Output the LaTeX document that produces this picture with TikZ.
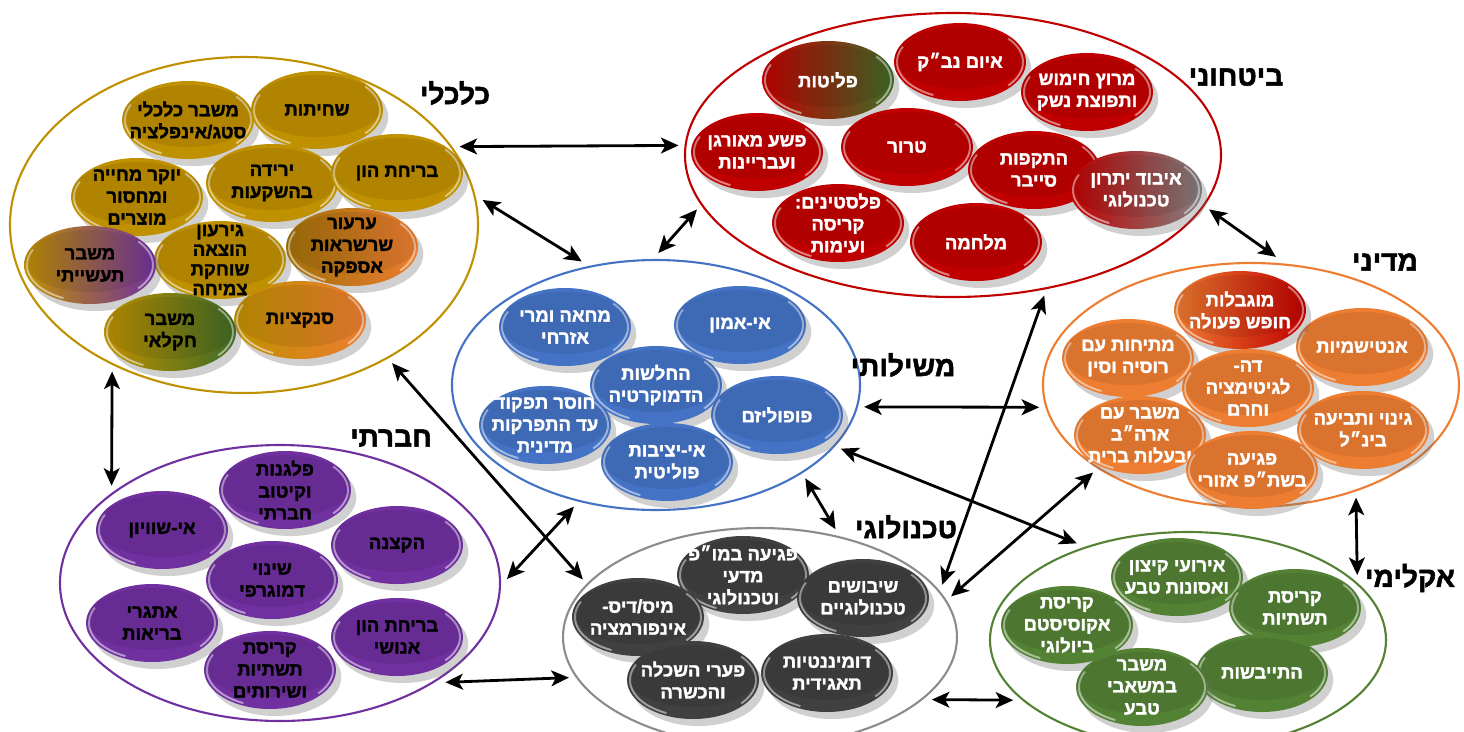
\documentclass[tikz,border=0pt]{standalone}
\usepackage{fontspec}
\newfontfamily\heb[Script=Hebrew,FakeBold=1.8]{Liberation Sans Bold}
\TeXXeTstate=1
\usetikzlibrary{shapes.geometric,arrows.meta,shadows,calc}
\definecolor{cgold}{HTML}{BF9000}
\definecolor{cred}{HTML}{C00000}
\definecolor{cblue}{HTML}{4472C4}
\definecolor{corange}{HTML}{ED7D31}
\definecolor{cpurple}{HTML}{7030A0}
\definecolor{cdgray}{HTML}{404040}
\definecolor{cgreen}{HTML}{548235}
\definecolor{cdgreen}{HTML}{3E6B26}
\definecolor{cmgray}{HTML}{808080}
\definecolor{cgrayl}{HTML}{8C8C8C}
\newcommand\hb[1]{\beginR#1\endR}
\newcommand\bub[6][]{%
  \node[bubble,#4] (#2) at (#3) {};
  \node[btxt,text=#5,#1] (#2t) at (#2.center) {#6};}
\tikzset{
  mytip/.tip={Stealth[length=10pt,width=9pt,inset=2.5pt]},
  conn/.style={mytip-mytip, line width=1.6pt, draw=black},
  grp/.style n args={3}{ellipse, draw=#1, fill=white, line width=1.2pt, inner sep=0pt,
    outer sep=4pt, minimum width=#2*0.02cm, minimum height=#3*0.02cm},
  bubble/.style={ellipse, inner sep=0pt, minimum width=2.64cm, minimum height=1.56cm,
    drop shadow={opacity=.3, shadow xshift=3pt, shadow yshift=-4pt, fill=black!60},
    path picture={\draw[white,opacity=.5,line width=1.1pt]
      ($(path picture bounding box.center)+(155:1.26cm and .73cm)$)
        arc[start angle=155,end angle=245,x radius=1.26cm,y radius=.73cm]
      ($(path picture bounding box.center)+(-40:1.26cm and .73cm)$)
        arc[start angle=-40,end angle=40,x radius=1.26cm,y radius=.73cm];
      \fill[black,opacity=.08] (path picture bounding box.center) ++(0,-4)
        ellipse [x radius=1.3cm, y radius=.62cm];}},
  btxt/.style={align=center, inner sep=0pt, font=\heb\fontsize{10.5}{12.5}\selectfont},
  lab/.style={inner sep=0pt, font=\heb\fontsize{16}{18}\selectfont},
  gold/.style={fill=cgold}, red/.style={fill=cred}, blue/.style={fill=cblue},
  orng/.style={fill=corange}, purp/.style={fill=cpurple}, dgray/.style={fill=cdgray},
  grn/.style={fill=cgreen}
}
\begin{document}
\begin{tikzpicture}[x=0.02cm,y=-0.02cm]
\useasboundingbox (0,0) rectangle (1464,731);
\clip (0,0) rectangle (1464,731);

% group ellipses
\node[grp={cgold}{468}{336}] (G) at (244,225) {};
\node[grp={cred}{536}{284}] (R) at (953,155) {};
\node[grp={cblue}{408}{250}] (B) at (656,385) {};
\node[grp={corange}{416}{244}] (O) at (1251,385) {};
\node[grp={cpurple}{440}{276}] (P) at (280,583) {};
\node[grp={cgrayl}{394}{218}] (T) at (760,637) {};
\node[grp={cgreen}{396}{216}] (C) at (1188,640) {};

% labels
\node[lab] (lG) at (455,93) {\hb{כלכלי}};
\node[lab] (lR) at (1236,77) {\hb{ביטחוני}};
\node[lab] (lB) at (903,365) {\hb{משילותי}};
\node[lab] (lO) at (1385,262) {\hb{מדיני}};
\node[lab] (lP) at (391,438) {\hb{חברתי}};
\node[lab] (lT) at (906,527) {\hb{טכנולוגי}};
\node[lab] (lC) at (1410,578) {\hb{אקלימי}};

% connectors
\draw[conn] (G.20) -- (R.178);
\draw[conn] (G.6) -- (B.121);
\draw[conn] (R.192) -- (B.89);
\draw[conn] (R.-12) -- (O.79);
\draw[conn] (G.228) -- (P.150);
\draw[conn] (G.-43) -- (T.162);
\draw[conn] (B.236) -- (P.1);
\draw[conn] (P.-31) -- (T.192);
\draw[conn] (B.-6) -- (O.186);
\draw[conn] (B.-19) -- (C.139);
\draw[conn] (R.-57) -- (T.16);
\draw[conn] (O.209) -- (T.12);
\draw[conn] (B.-32) -- (T.55);
\draw[conn] (T.-20) -- (C.199);
\draw[conn] (O.-47) -- (C.21);

% economic
\bub{g2}{188,120}{gold}{black}{\hb{משבר כלכלי}\\\hb{סטג/אינפלציה}}
\bub{g1}{317,110}{gold}{black}{\hb{שחיתות}}
\bub{g4}{272,183}{gold}{black}{\hb{ירידה}\\\hb{בהשקעות}}
\bub{g3}{397,173}{gold}{black}{\hb{בריחת הון}}
\bub{g5}{137,197}{gold}{black}{\hb{יוקר מחייה}\\\hb{ומחסור}\\\hb{מוצרים}}
\bub[font=\heb\fontsize{10.5}{11.2}\selectfont]{g7}{220,260}{gold}{black}{\hb{גירעון}\\\hb{הוצאה}\\\hb{שוחקת}\\\hb{צמיחה}}
\bub{g6}{352,247}{left color=cgold!80!corange!80!black, right color=corange}{black}{\hb{ערעור}\\\hb{שרשראות}\\\hb{אספקה}}
\bub{g8}{90,265}{left color=cgold, middle color=cgold!80!cpurple, right color=cpurple}{black}{\hb{משבר}\\\hb{תעשייתי}}
\bub{g9}{300,320}{left color=cgold, right color=corange}{black}{\hb{סנקציות}}
\bub{g10}{170,332}{left color=cgold, middle color=cgold!70!cdgreen, right color=cdgreen}{black}{\hb{משבר}\\\hb{חקלאי}}

% security
\bub{r1}{828,80}{left color=cred, middle color=cred!55!cdgreen, right color=cdgreen}{white}{\hb{פליטות}}
\bub{r2}{960,62}{red}{white}{\hb{איום נב״ק}}
\bub{r3}{1087,92}{red}{white}{\hb{מרוץ חימוש}\\\hb{ותפוצת נשק}}
\bub{r4}{757,152}{red}{white}{\hb{פשע מאורגן}\\\hb{ועבריינות}}
\bub{r5}{907,147}{red}{white}{\hb{טרור}}
\bub{r6}{1034,170}{red}{white}{\hb{התקפות}\\\hb{סייבר}}
\bub{r7}{1136,190}{left color=cred, right color=cmgray}{white}{\hb{איבוד יתרון}\\\hb{טכנולוגי}}
\bub{r8}{838,223}{red}{white}{\hb{פלסטינים:}\\\hb{קריסה}\\\hb{ועימות}}
\bub{r9}{976,242}{red}{white}{\hb{מלחמה}}

% governance
\bub{b1}{565,327}{blue}{white}{\hb{מחאה ומרי}\\\hb{אזרחי}}
\bub{b2}{740,325}{blue}{white}{\hb{אי-אמון}}
\bub{b3}{656,385}{blue}{white}{\hb{החלשות}\\\hb{הדמוקרטיה}}
\bub{b4}{545,425}{blue}{white}{\hb{חוסר תפקוד}\\\hb{עד התפרקות}\\\hb{מדינית}}
\bub{b5}{777,415}{blue}{white}{\hb{פופוליזם}}
\bub{b6}{667,462}{blue}{white}{\hb{אי-יציבות}\\\hb{פוליטית}}

% political
\bub{o2}{1362,347}{orng}{white}{\hb{אנטישמיות}}
\bub{o3}{1128,358}{orng}{white}{\hb{מתיחות עם}\\\hb{רוסיה וסין}}
\bub{o1}{1240,310}{left color=corange, middle color=corange, right color=cred}{white}{\hb{מוגבלות}\\\hb{חופש פעולה}}
\bub{o4}{1248,388}{orng}{white}{\hb{דה-}\\\hb{לגיטימציה}\\\hb{וחרם}}
\bub{o5}{1363,430}{orng}{white}{\hb{גינוי ותביעה}\\\hb{בינ״ל}}
\bub{o6}{1140,435}{orng}{white}{\hb{משבר עם}\\\hb{ארה״ב}\\\hb{ובעלות ברית}}
\bub{o7}{1252,470}{orng}{white}{\hb{פגיעה}\\\hb{בשת״פ אזורי}}

% social
\bub{p1}{285,490}{purp}{black}{\hb{פלגנות}\\\hb{וקיטוב}\\\hb{חברתי}}
\bub{p2}{162,530}{purp}{black}{\hb{אי-שוויון}}
\bub{p3}{397,545}{purp}{black}{\hb{הקצנה}}
\bub{p4}{272,580}{purp}{black}{\hb{שינוי}\\\hb{דמוגרפי}}
\bub{p5}{152,623}{purp}{black}{\hb{אתגרי}\\\hb{בריאות}}
\bub{p6}{397,637}{purp}{black}{\hb{בריחת הון}\\\hb{אנושי}}
\bub{p7}{270,670}{purp}{black}{\hb{קריסת}\\\hb{תשתיות}\\\hb{ושירותים}}

% technological
\bub{t1}{743,575}{dgray}{white}{\hb{פגיעה במו״פ}\\\hb{מדעי}\\\hb{וטכנולוגי}}
\bub{t2}{863,598}{dgray}{white}{\hb{שיבושים}\\\hb{טכנולוגיים}}
\bub{t3}{638,617}{dgray}{white}{\hb{מיס/דיס-}\\\hb{אינפורמציה}}
\bub{t4}{827,673}{dgray}{white}{\hb{דומיננטיות}\\\hb{תאגידית}}
\bub{t5}{693,680}{dgray}{white}{\hb{פערי השכלה}\\\hb{והכשרה}}

% climate
\bub{c1}{1177,577}{grn}{white}{\hb{אירועי קיצון}\\\hb{ואסונות טבע}}
\bub{c2}{1295,608}{grn}{white}{\hb{קריסת}\\\hb{תשתיות}}
\bub{c3}{1067,625}{grn}{white}{\hb{קריסת}\\\hb{אקוסיסטם}\\\hb{ביולוגי}}
\bub{c4}{1262,673}{grn}{white}{\hb{התייבשות}}
\bub{c5}{1142,687}{grn}{white}{\hb{משבר}\\\hb{במשאבי}\\\hb{טבע}}
\end{tikzpicture}
\end{document}
